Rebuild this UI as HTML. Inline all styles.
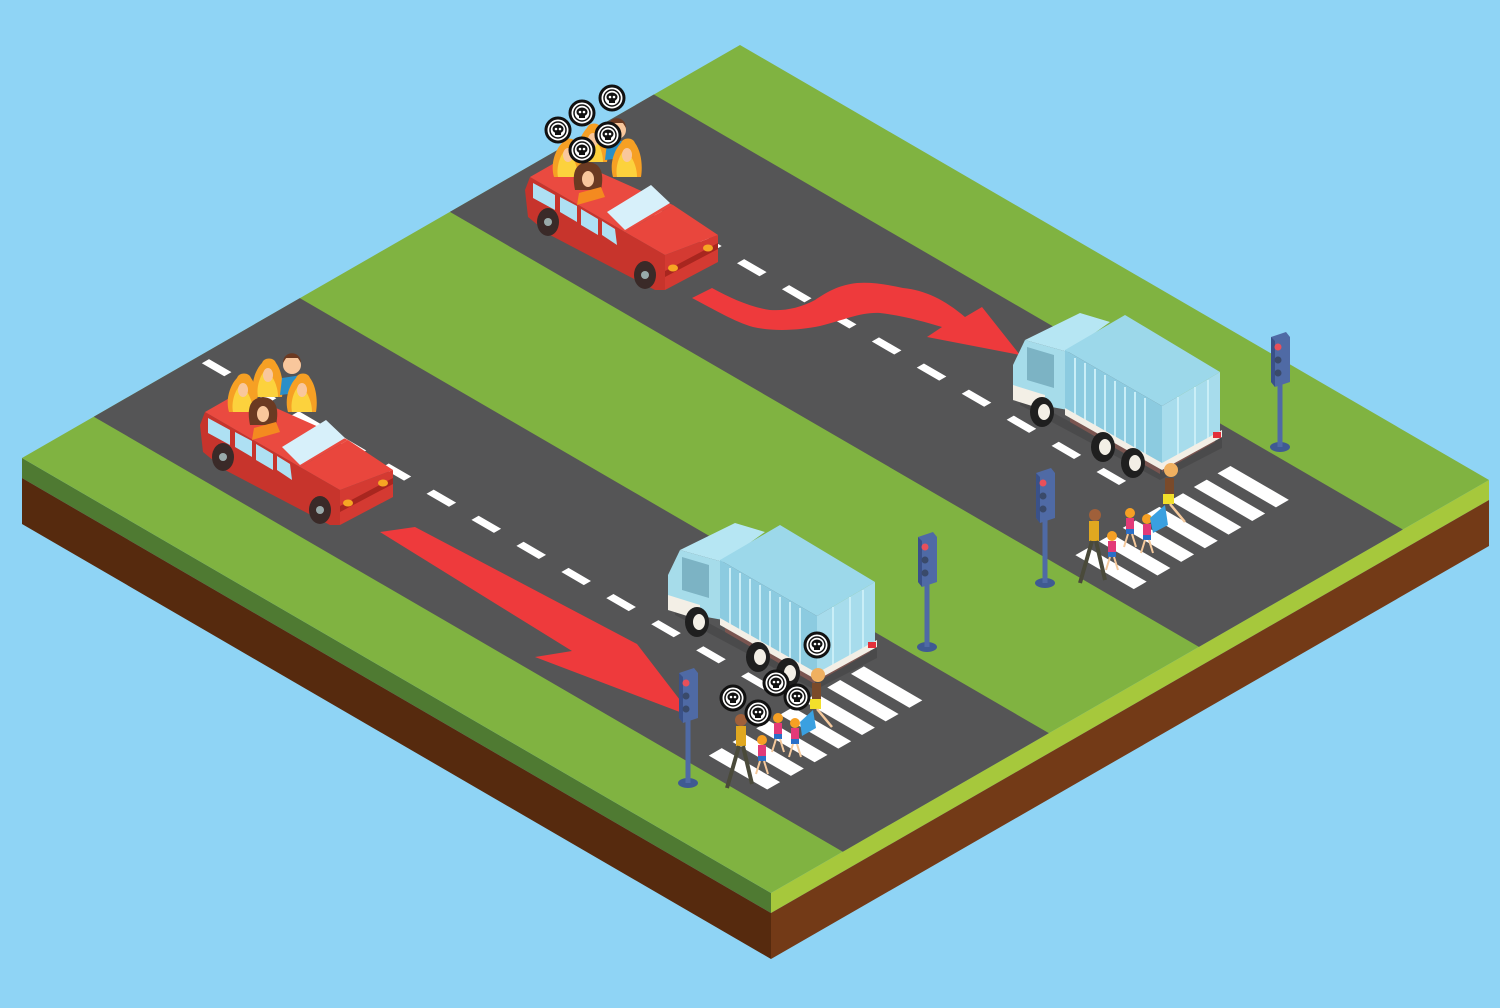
<!DOCTYPE html>
<html><head><meta charset="utf-8"><style>html,body{margin:0;padding:0;background:#8fd4f5;}svg{display:block}</style></head>
<body>
<svg width="1500" height="1008" viewBox="0 0 1500 1008" xmlns="http://www.w3.org/2000/svg">
<defs>
<g id="skull">
<circle r="12" fill="#fff" stroke="#111" stroke-width="3"/>
<circle r="8" fill="#fff" stroke="#111" stroke-width="1.5"/>
<ellipse cx="0" cy="-1" rx="5.5" ry="4.5" fill="#111"/>
<rect x="-3" y="2" width="6" height="3" fill="#111"/>
<circle cx="-2" cy="-1" r="1.3" fill="#fff"/><circle cx="2" cy="-1" r="1.3" fill="#fff"/>
</g>
<g id="flame">
<path d="M-14,14 C-18,0 -12,-14 -6,-20 C-4,-26 6,-26 8,-20 C14,-12 16,2 14,14 Z" fill="#f6a024"/>
<path d="M-10,14 C-12,4 -8,-8 -2,-14 C4,-8 10,2 10,14 Z" fill="#fcd23d"/>
<ellipse cx="0" cy="-8" rx="5" ry="7" fill="#f9c79c"/>
</g>
<g id="car">
<polygon points="200,425 203,452 225,470 330,525 340,525 340,490 300,467 205,412" fill="#c7342c"/>
<polygon points="340,490 340,525 393,497 393,470" fill="#d43a32"/>
<polygon points="340,506 340,512 393,484 393,478" fill="#a8261f"/>
<polygon points="300,467 340,490 393,470 348,440" fill="#e9463d"/>
<polygon points="205,412 240,392 348,440 300,467" fill="#ea4a40"/>
<polygon points="282,447 326,420 345,438 300,465" fill="#d7f0fa"/>
<polygon points="208,418 230,430 230,445 208,433" fill="#aee0f3"/>
<polygon points="235,432 252,441 252,457 235,447" fill="#aee0f3"/>
<polygon points="256,444 273,454 273,470 256,460" fill="#aee0f3"/>
<polygon points="277,456 290,464 292,480 277,470" fill="#aee0f3"/>
<ellipse cx="348" cy="503" rx="5" ry="3.5" fill="#f6a623"/>
<ellipse cx="383" cy="483" rx="5" ry="3.5" fill="#f6a623"/>
<ellipse cx="223" cy="457" rx="11" ry="14" fill="#3a2a28"/><circle cx="223" cy="457" r="4" fill="#9aa"/>
<ellipse cx="320" cy="510" rx="11" ry="14" fill="#3a2a28"/><circle cx="320" cy="510" r="4" fill="#9aa"/>
<use href="#flame" x="268" y="383"/>
<circle cx="292" cy="365" r="9" fill="#f9c79c"/><path d="M283,363 C283,350 301,350 301,363 L298,358 L286,358Z" fill="#6b3a22"/>
<path d="M280,395 L282,378 L302,375 L306,392Z" fill="#2a8fc8"/>
<use href="#flame" x="243" y="398"/>
<use href="#flame" x="302" y="398"/>
<path d="M250,425 C246,405 252,398 263,397 C274,398 280,405 276,425Z" fill="#6b3a22"/>
<ellipse cx="263" cy="414" rx="6" ry="8" fill="#f9c79c"/>
<path d="M252,440 L254,428 L276,422 L280,432Z" fill="#f48a20"/>
</g>
<g id="truck">
<polygon points="1020,395 1160,470 1222,436 1222,448 1160,480 1020,405" fill="#000" opacity="0.12"/>
<polygon points="1070,410 1160,462 1160,474 1070,422" fill="#7a5550"/>
<polygon points="1162,462 1215,432 1215,442 1162,472" fill="#7a5550"/>
<polygon points="1013,365 1025,340 1068,352 1068,410 1013,400" fill="#a6dcea"/>
<polygon points="1025,340 1080,313 1110,322 1068,352" fill="#b6e6f3"/>
<polygon points="1027,347 1054,355 1054,388 1027,380" fill="#7cb3c4"/>
<polygon points="1013,385 1045,395 1045,410 1013,400" fill="#f3efe6"/>
<polygon points="1065,350 1125,315 1220,372 1162,406" fill="#9cd8ea"/>
<polygon points="1065,350 1162,406 1162,465 1065,410" fill="#8ccbe0"/>
<polygon points="1162,406 1220,372 1220,432 1162,465" fill="#a7dcec"/>
<g stroke="#c9eef7" stroke-width="2">
<line x1="1075" y1="358" x2="1075" y2="414"/><line x1="1085" y1="363" x2="1085" y2="420"/><line x1="1095" y1="369" x2="1095" y2="426"/><line x1="1105" y1="375" x2="1105" y2="432"/><line x1="1115" y1="381" x2="1115" y2="438"/><line x1="1125" y1="387" x2="1125" y2="443"/><line x1="1135" y1="392" x2="1135" y2="449"/><line x1="1145" y1="398" x2="1145" y2="455"/><line x1="1178" y1="397" x2="1178" y2="456"/><line x1="1195" y1="387" x2="1195" y2="446"/><line x1="1208" y1="380" x2="1208" y2="439"/>
</g>
<polygon points="1065,408 1162,463 1162,470 1065,415" fill="#f3efe6"/>
<polygon points="1162,463 1222,430 1222,437 1162,470" fill="#f3efe6"/>
<rect x="1213" y="432" width="8" height="6" fill="#e2303a"/>
<ellipse cx="1042" cy="412" rx="12" ry="15" fill="#1f1f1f"/><ellipse cx="1044" cy="412" rx="6" ry="8" fill="#f3efe6"/>
<ellipse cx="1103" cy="447" rx="12" ry="15" fill="#1f1f1f"/><ellipse cx="1105" cy="447" rx="6" ry="8" fill="#f3efe6"/>
<ellipse cx="1133" cy="463" rx="12" ry="15" fill="#1f1f1f"/><ellipse cx="1135" cy="463" rx="6" ry="8" fill="#f3efe6"/>
</g>
<g id="light">
<ellipse cx="0" cy="110" rx="10" ry="5" fill="#3f5a93"/>
<rect x="-2.5" y="40" width="5" height="70" fill="#4f6aa5"/>
<polygon points="-9,0 6,-5 10,0 10,45 -5,50 -9,45" fill="#4f6aa5"/>
<polygon points="-9,0 -9,45 -5,50 -5,4" fill="#3a5189"/>
<circle cx="-2" cy="10" r="3.5" fill="#e9505a"/><circle cx="-2" cy="23" r="3.5" fill="#3a4a6a"/><circle cx="-2" cy="36" r="3.5" fill="#3a4a6a"/>
</g>
<g id="kid">
<circle cx="0" cy="-22" r="5" fill="#f6a024"/>
<rect x="-4" y="-17" width="8" height="12" fill="#e33a78"/>
<rect x="-4" y="-6" width="8" height="5" fill="#2a6fc8"/>
<line x1="-2" y1="-1" x2="-6" y2="12" stroke="#f5c99c" stroke-width="2"/><line x1="2" y1="-1" x2="6" y2="12" stroke="#f5c99c" stroke-width="2"/>
</g>
</defs>

<!-- sides -->
<polygon points="22,458 771,893 771,913 22,478" fill="#4f7a32"/>
<polygon points="22,478 771,913 771,959 22,524" fill="#562a0e"/>
<polygon points="771,893 1489,480 1489,500 771,913" fill="#a6c83c"/>
<polygon points="771,913 1489,500 1489,546 771,959" fill="#733a17"/>

<g transform="matrix(0.749,0.435,0.718,-0.413,22,458)">
<rect x="0" y="0" width="1000" height="1000" fill="#80b341"/>
<rect x="0" y="100" width="1000" height="287" fill="#555556"/>
<rect x="0" y="596" width="1000" height="284" fill="#555556"/>
<line x1="10" y1="245" x2="790" y2="245" stroke="#fff" stroke-width="10" stroke-dasharray="30 30"/>
<line x1="10" y1="740" x2="790" y2="740" stroke="#fff" stroke-width="10" stroke-dasharray="30 30"/>
<g fill="#fff">
<rect x="800" y="122" width="78" height="18"/><rect x="800" y="155" width="78" height="18"/><rect x="800" y="188" width="78" height="18"/><rect x="800" y="221" width="78" height="18"/><rect x="800" y="254" width="78" height="18"/><rect x="800" y="287" width="78" height="18"/><rect x="800" y="320" width="78" height="18"/>
<rect x="812" y="620" width="78" height="18"/><rect x="812" y="653" width="78" height="18"/><rect x="812" y="686" width="78" height="18"/><rect x="812" y="719" width="78" height="18"/><rect x="812" y="752" width="78" height="18"/><rect x="812" y="785" width="78" height="18"/><rect x="812" y="818" width="78" height="18"/>
</g>
</g>

<!-- arrows -->
<polygon points="380,532 415,527 637,644 693,717 535,657 572,651" fill="#ee3a3c"/>
<path d="M712,288 L692,298 C715,310 735,322 753,327 C775,332 800,330 820,326 C845,320 860,312 880,313 C905,316 925,322 942,327 L927,337 L1020,355 L982,307 L965,317 C945,300 925,290 903,288 C885,284 870,282 857,283 C840,285 830,290 815,300 C800,308 785,311 770,310 C750,307 730,298 712,288 Z" fill="#ee3a3c"/>

<!-- vehicles -->
<use href="#car" transform="translate(325,-235)"/>
<use href="#car"/>
<use href="#truck"/>
<use href="#truck" transform="translate(-345,210)"/>

<!-- traffic lights -->
<use href="#light" x="1280" y="337"/>
<use href="#light" x="1045" y="473"/>
<use href="#light" x="927" y="537"/>
<use href="#light" x="688" y="673"/>

<!-- pedestrians back -->
<g>
<circle cx="1095" cy="515" r="6" fill="#a0603a"/><rect x="1089" y="521" width="10" height="20" fill="#e0a820"/>
<line x1="1092" y1="541" x2="1080" y2="583" stroke="#4a4a3a" stroke-width="4"/><line x1="1096" y1="541" x2="1105" y2="580" stroke="#4a4a3a" stroke-width="4"/>
<use href="#kid" x="1112" y="558"/><use href="#kid" x="1130" y="535"/><use href="#kid" x="1147" y="541"/>
<circle cx="1171" cy="470" r="7" fill="#f0b060"/><rect x="1165" y="478" width="9" height="16" fill="#7a4a2a"/><rect x="1163" y="494" width="11" height="10" fill="#f2e02a"/>
<polygon points="1150,518 1165,505 1168,525 1153,533" fill="#3aa0e0"/>
<line x1="1170" y1="504" x2="1185" y2="522" stroke="#f5c99c" stroke-width="2.5"/>
</g>
<!-- pedestrians front -->
<g>
<circle cx="741" cy="720" r="6" fill="#a0603a"/><rect x="736" y="726" width="10" height="20" fill="#e0a820"/>
<line x1="739" y1="746" x2="727" y2="788" stroke="#4a4a3a" stroke-width="4"/><line x1="743" y1="746" x2="752" y2="784" stroke="#4a4a3a" stroke-width="4"/>
<use href="#kid" x="762" y="762"/><use href="#kid" x="778" y="740"/><use href="#kid" x="795" y="745"/>
<circle cx="818" cy="675" r="7" fill="#f0b060"/><rect x="812" y="683" width="9" height="16" fill="#7a4a2a"/><rect x="810" y="699" width="11" height="10" fill="#f2e02a"/>
<polygon points="800,722 813,710 816,728 802,736" fill="#3aa0e0"/>
<line x1="817" y1="709" x2="832" y2="727" stroke="#f5c99c" stroke-width="2.5"/>
</g>

<!-- skulls -->
<use href="#skull" x="558" y="130"/><use href="#skull" x="582" y="113"/><use href="#skull" x="612" y="98"/><use href="#skull" x="608" y="135"/><use href="#skull" x="582" y="150"/>
<use href="#skull" x="817" y="645"/><use href="#skull" x="733" y="698"/><use href="#skull" x="758" y="713"/><use href="#skull" x="776" y="683"/><use href="#skull" x="797" y="697"/>
</svg>
</body></html>
